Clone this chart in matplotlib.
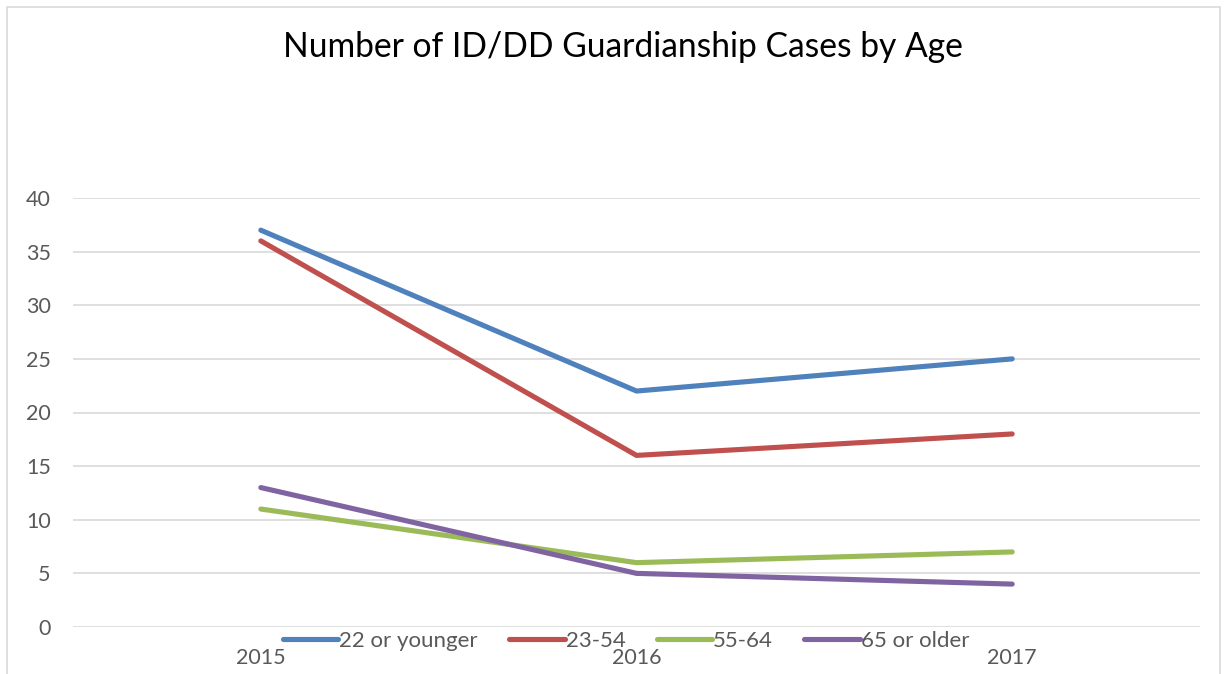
import matplotlib
matplotlib.use("Agg")
import matplotlib.pyplot as plt
from matplotlib.patches import Rectangle

years = ["2015", "2016", "2017"]
series_names = ["22 or younger", "23-54", "55-64", "65 or older"]
v_22_or_younger = [37, 22, 25]
v_23_54 = [36, 16, 18]
v_55_64 = [11, 6, 7]
v_65_or_older = [13, 5, 4]
colors = ["#4F81BD", "#C0504D", "#9BBB59", "#8064A2"]
yticks = [0, 5, 10, 15, 20, 25, 30, 35, 40]

plt.rcParams['font.family'] = ['Lato', 'DejaVu Sans']

W, H = 1226, 674
fig = plt.figure(figsize=(W / 100, H / 100), dpi=100)
fig.patch.set_facecolor("white")

# chart border
fig.patches.append(Rectangle((7 / W, -0.01), (1220 - 7) / W, (H - 7) / H + 0.01,
                             transform=fig.transFigure, fill=False,
                             edgecolor="#D9D9D9", linewidth=1.2))

ax = fig.add_axes([73 / W, (H - 627) / H, (1200 - 73) / W, (627 - 198) / H])
x = list(range(len(years)))
for vals, name, c in zip([v_22_or_younger, v_23_54, v_55_64, v_65_or_older], series_names, colors):
    ax.plot(x, vals, color=c, linewidth=3.7, label=name, solid_capstyle="round")

ax.set_xlim(-0.5, 2.5)
ax.set_ylim(0, 40)
ax.set_yticks(yticks)
ax.set_yticklabels([str(t) for t in yticks])
ax.set_xticks(x)
ax.set_xticklabels(years)
ax.grid(axis="y", color="#D9D9D9", linewidth=1.2)
ax.set_axisbelow(True)
for s in ax.spines.values():
    s.set_visible(False)
ax.tick_params(axis="both", length=0, labelsize=15.5, colors="#595959")
ax.tick_params(axis="x", pad=15)
ax.tick_params(axis="y", pad=16)

fig.text(623 / W, 1 - 47 / H, "Number of ID/DD Guardianship Cases by Age",
         ha="center", va="center", fontsize=24.2, color="black")

leg = fig.legend(loc="center", bbox_to_anchor=(626 / W, 1 - 641 / H), ncol=4,
                 frameon=False, fontsize=16, handlelength=2.5, handletextpad=0.05,
                 columnspacing=1.4, labelcolor="#595959")

fig.savefig("out.png", dpi=100)
